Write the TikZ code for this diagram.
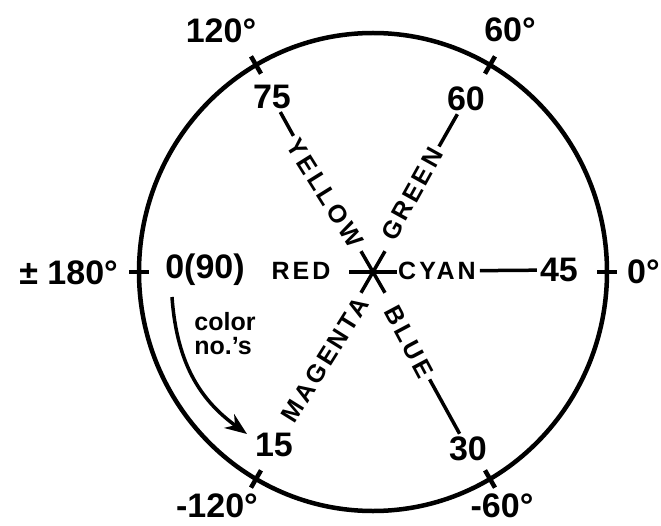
\documentclass[tikz,border=0pt]{standalone}
\usepackage{fontspec}
\setmainfont{Liberation Sans}
\newfontfamily\capsfont[LetterSpace=12]{Liberation Sans}
\usetikzlibrary{arrows.meta}

\begin{document}
\begin{tikzpicture}[>=Stealth, x=1pt, y=1pt,
	deg/.style={font=\bfseries\fontsize{34}{38}\selectfont, inner sep=2pt},
	num/.style={font=\bfseries\fontsize{34}{38}\selectfont, inner sep=3pt},
	word/.style={font=\capsfont\bfseries\fontsize{25}{28}\selectfont, inner sep=4pt},
	spoke/.style={line width=3.5pt}]
	\def\rx{234}	% circle radius, horizontal
	\def\ry{239}	% circle radius, vertical
	\def\a{24}		% star arm length
	\def\tk{10}		% half tick length
	\def\lw{4.5pt}	% circle line width

	\useasboundingbox (-373, -253) rectangle (288, 272);

	% Circle and angle ticks
	\coordinate (o) at (0, 0);
	\draw[line width=\lw] (o) ellipse [x radius=\rx, y radius=\ry];
	\foreach \ang in {0, 60, ..., 300}
		\draw[line width=\lw] (\ang: {\rx-\tk} and {\ry-\tk}) -- (\ang: {\rx+\tk} and {\ry+\tk});

	% Angle labels
	\node[deg] (d120) at (-152, 241) {120°};
	\node[deg] (d60) at (137, 242) {60°};
	\node[deg] (dm120) at (-156, -234) {-120°};
	\node[deg] (dm60) at (129, -234) {-60°};
	\node[deg, anchor=east] (d180) at (-253, -1) {± 180°};
	\node[deg, anchor=west] (d0) at (252, 0) {0°};

	% Star
	\foreach \ang in {0, 60, ..., 300}
		\draw[spoke] (o) -- +(\ang: \a);

	% Color numbers
	\node[num] (n0) at (-168, 2) {0(90)};
	\node[num] (n15) at (-99, -173) {15};
	\node[num] (n30) at (95, -177) {30};
	\node[num] (n45) at (186, 2) {45};
	\node[num] (n60) at (93, 173) {60};
	\node[num] (n75) at (-101, 175) {75};

	% Color names
	\node[word] (red) at (-72, 1) {RED};
	\node[word] (cyan) at (64, 1) {CYAN};
	\node[word, rotate=-58] (yellow) at (-48, 79) {YELLOW};
	\node[word, rotate=61] (green) at (39, 78) {GREEN};
	\node[word, rotate=58] (magenta) at (-48, -88) {MAGENTA};
	\node[word, rotate=-62] (blue) at (36, -70) {BLUE};

	% Name to number lines
	\draw[spoke] (yellow) -- (n75);
	\draw[spoke] (green) -- (n60);
	\draw[spoke] (cyan) -- (n45);
	\draw[spoke] (blue) -- (n30);

	% Direction of color numbers
	\coordinate (ar0) at (-201, -25);
	\coordinate (ar1) at (-126, -162);
	\draw[spoke, -{Stealth[length=22pt, width=17pt]}] (ar0) .. controls (-196, -95) and (-170, -130) .. (ar1);
	\node[align=left, font=\bfseries\fontsize{25}{24}\selectfont, inner sep=0pt] (cno) at (-148, -62) {color\\no.'s};
\end{tikzpicture}
\end{document}
